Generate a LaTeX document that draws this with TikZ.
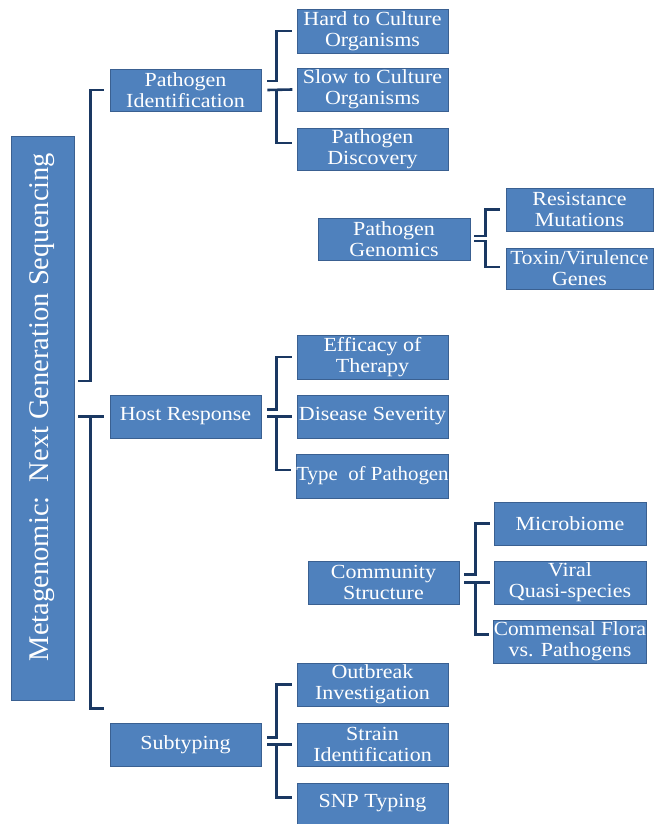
\documentclass[tikz,border=0pt]{standalone}
\usepackage{fontspec}
\setmainfont{Liberation Serif}
\newfontfamily\boxfont{Liberation Serif}[FakeStretch=1.1]
\usetikzlibrary{calc}
\definecolor{boxblue}{RGB}{79,129,189}
\definecolor{boxline}{RGB}{58,96,145}
\definecolor{connblue}{RGB}{26,56,98}
\begin{document}
\begin{tikzpicture}[x=1pt,y=-1pt,
  box/.style={draw=boxline, line width=0.8pt, fill=boxblue, text=white,
    align=center, inner sep=0pt, minimum width=151pt, minimum height=43pt,
    font=\boxfont\fontsize{20}{21}\selectfont},
  conn/.style={draw=connblue, line width=2.6pt}]
\useasboundingbox (0,0) rectangle (654,824);

% main
\node[box, minimum width=63pt, minimum height=564pt] (main) at (42.5,418)
  {\fontsize{28.5}{30}\rmfamily\selectfont\rotatebox{90}{\hspace*{22pt}Metagenomic:\ \ Next Generation Sequencing}};

% level 1
\node[box, minimum height=42pt] (PI) at (185.5,90) {Pathogen\\Identification};
\node[box] (HR) at (185.5,416.5) {Host Response};
\node[box] (Sub) at (185.5,744.5) {Subtyping};

% floating groups
\node[box, minimum width=152pt, minimum height=42pt] (PG) at (394,239) {Pathogen\\Genomics};
\node[box] (CS) at (383.5,582.5) {Community\\Structure};

% children of PI
\node[box, minimum height=44pt] (hard) at (372.5,31) {Hard to Culture\\Organisms};
\node[box] (slow) at (372.5,89.5) {Slow to Culture\\Organisms};
\node[box, minimum height=42pt] (disc) at (372.5,149) {Pathogen\\Discovery};

% children of PG
\node[box, minimum width=147pt] (res) at (579.5,209.5) {Resistance\\Mutations};
\node[box, minimum width=147pt, minimum height=41pt] (tox) at (579.5,268.5) {\scalebox{0.97}[1]{Toxin/Virulence}\\Genes};

% children of HR
\node[box, minimum height=44pt] (eff) at (372.5,357) {Efficacy of\\Therapy};
\node[box] (dis) at (372.5,416.5) {Disease Severity};
\node[box, minimum height=44pt] (typ) at (372.5,476) {\scalebox{0.95}[1]{Type\ \ of Pathogen}};

% children of CS
\node[box, minimum width=152pt] (mic) at (570,523.5) {Microbiome};
\node[box, minimum width=152pt] (vir) at (570,582.5) {Viral\\Quasi-species};
\node[box, minimum width=152pt] (com) at (570,641.5) {\scalebox{0.97}[1]{Commensal Flora}\\vs. Pathogens};

% children of Sub
\node[box] (out) at (372.5,684.5) {Outbreak\\Investigation};
\node[box] (str) at (372.5,744.5) {Strain\\Identification};
\node[box, minimum height=41pt] (snp) at (372.5,803.5) {SNP Typing};

% connectors: main
\draw[conn] ($(main.east)+(4,-37)$) -- ++(12,0) |- ($(PI.west)+(-6,0)$);
\draw[conn] ($(HR.west -| main.east)+(4,0)$) -- ($(HR.west)+(-6,0)$);
\draw[conn] ($(main.east)+(16,0)$) |- ($(Sub.west)+(-6,-36)$);

% connectors: PI
\draw[conn] ($(PI.east)+(6,-9)$) -- ++(9,0) |- ($(hard.west)+(-5,0)$);
\draw[conn] ($(PI.east)+(6,0)$) -- ($(slow.west -| PI.east)+(31,0)$);
\draw[conn] ($(PI.east)+(15,0)$) |- ($(disc.west)+(-5,-6)$);

% connectors: PG
\draw[conn] ($(PG.east)+(4,-3)$) -- ++(11,0) |- ($(res.west)+(-6,0)$);
\draw[conn] ($(PG.east)+(4,2)$) -- ++(11,0) |- ($(tox.west)+(-6,-1.5)$);

% connectors: HR
\draw[conn] ($(HR.east)+(6,-7)$) -- ++(9,0) |- ($(eff.west)+(-5,0)$);
\draw[conn] ($(HR.east)+(6,0)$) -- ($(dis.west)+(-5,0)$);
\draw[conn] ($(HR.east)+(15,0)$) |- ($(typ.west)+(-5,-6)$);

% connectors: CS
\draw[conn] ($(CS.east)+(5,-8)$) -- ++(11,0) |- ($(mic.west)+(-4,0)$);
\draw[conn] ($(CS.east)+(5,0)$) -- ($(vir.west)+(-4,0)$);
\draw[conn] ($(CS.east)+(16,0)$) |- ($(com.west)+(-4,-7)$);

% connectors: Sub
\draw[conn] ($(Sub.east)+(6,-7)$) -- ++(9,0) |- ($(out.west)+(-5,0)$);
\draw[conn] ($(Sub.east)+(6,0)$) -- ($(str.west)+(-5,0)$);
\draw[conn] ($(Sub.east)+(15,0)$) |- ($(snp.west)+(-5,-6)$);
\end{tikzpicture}
\end{document}
